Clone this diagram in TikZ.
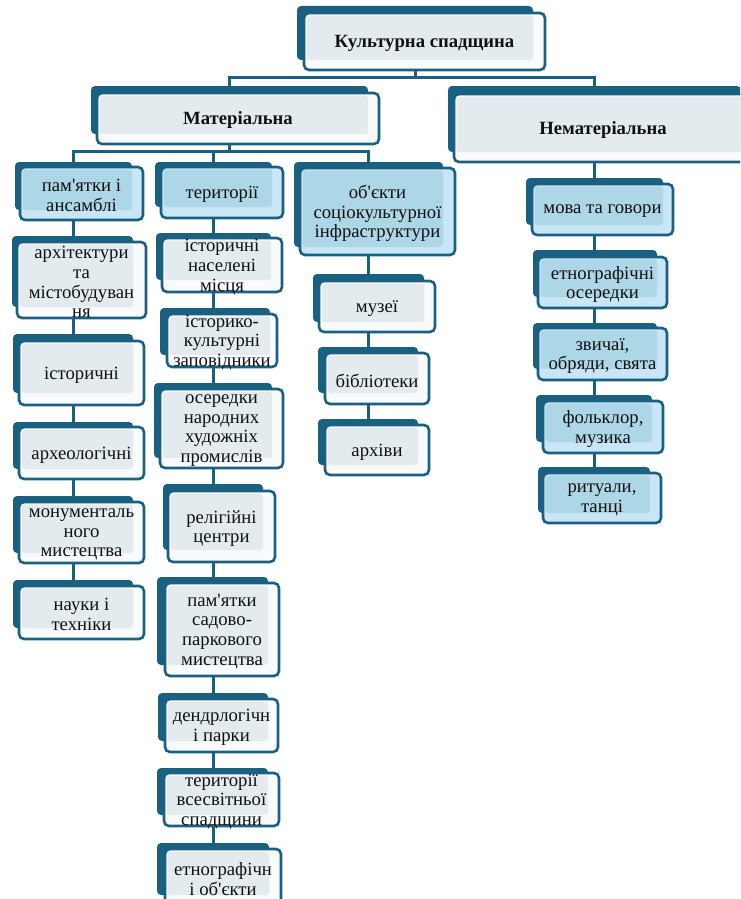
\documentclass[tikz,border=0pt]{standalone}
\usepackage{fontspec}
\setmainfont{Liberation Serif}
\usetikzlibrary{fit,backgrounds}
\definecolor{navy}{HTML}{1A6080}
\definecolor{greyin}{HTML}{E4EBEF}
\definecolor{greyout}{HTML}{F8FAFB}
\definecolor{bluein}{HTML}{ADD6E7}
\definecolor{blueout}{HTML}{C8E6F5}
\definecolor{ink}{HTML}{111111}
\newcommand\apo{\textquotesingle}
\tikzset{
  backbox/.style={fill=navy, rounded corners=4pt, inner sep=0pt, outer sep=0pt},
  frontbox/.style={draw=navy, line width=2.6pt, rounded corners=5pt, inner sep=0pt, outer sep=0pt},
  greyout/.style={fill=greyout}, blueout/.style={fill=blueout},
  greyin/.style={fill=greyin}, bluein/.style={fill=bluein},
  txt/.style={align=center, inner sep=0pt, text=ink, font=\fontsize{18.7}{19.7}\selectfont},
  conn/.style={draw=navy, line width=3pt}
}
\newcommand\cbx[7]{%
  \node[backbox, fit={(#2)(#3)}] (#1b) {};
  \node[frontbox, #6out, fit={(#4)(#5)}] (#1) {};
  \fill[#6in, rounded corners=3pt] ([shift={(2.5,2.5)}]#1.north west) rectangle (#3);
  \node[txt] (#1t) at ([yshift=-2pt]#1.center) {#7};
}
\begin{document}
\begin{tikzpicture}[x=1pt,y=-1pt]
\useasboundingbox (0,0) rectangle (740,899);
\clip (0,0) rectangle (740,899);
\coordinate (busT) at (0,77);
\coordinate (busM) at (0,151);
\cbx{tb}{297,6}{533,60}{304,13}{545,70}{grey}{\bfseries Культурна спадщина}
\cbx{mat}{91,86}{368,134}{97,93}{379,144}{grey}{\bfseries Матеріальна}
\cbx{nemat}{448,86}{741,152}{454,94}{752,162}{grey}{\bfseries Нематеріальна}
% column 1
\cbx{pa}{15,162}{132,210}{20,167}{143,220}{blue}{пам\apo ятки і\\ансамблі}
\cbx{arch}{12,236}{133,307}{17,242}{146,318}{grey}{архітектури\\та\\містобудуван\\ня}
\cbx{ist}{13,334}{133,393}{19,341}{144,405}{grey}{історичні}
\cbx{arh}{13,422}{133,469}{19,427}{144,479}{grey}{археологічні}
\cbx{mon}{13,496}{133,553}{19,502}{144,563}{grey}{монументаль\\ного\\мистецтва}
\cbx{nauk}{13,580}{133,628}{19,586}{144,639}{grey}{науки і\\техніки}
% column 2
\cbx{ter}{155,162}{272,207}{161,167}{283,218}{blue}{території}
\cbx{inm}{156,233}{271,280}{162,238}{282,292}{grey}{історичні\\населені\\місця}
\cbx{ikz}{160,308}{270,355}{167,314}{277,367}{grey}{історико-\\культурні\\заповідники}
\cbx{oser}{154,383}{272,458}{160,389}{283,468}{grey}{осередки\\народних\\художніх\\промислів}
\cbx{rel}{163,484}{263,550}{168,491}{275,562}{grey}{релігійні\\центри}
\cbx{sad}{157,577}{268,665}{165,583}{279,676}{grey}{пам\apo ятки\\садово-\\паркового\\мистецтва}
\cbx{dend}{158,693}{268,741}{165,699}{278,752}{grey}{дендрлогічн\\і парки}
\cbx{tvs}{157,768}{268,815}{164,773}{279,826}{grey}{території\\всесвітньої\\спадщини}
\cbx{etn}{157,843}{269,895}{165,849}{281,905}{grey}{етнографічн\\і об\apo єкти}
% column 3
\cbx{obj}{294,162}{443,247}{300,168}{455,255}{blue}{об\apo єкти\\соціокультурної\\інфраструктури}
\cbx{muz}{313,274}{424,322}{319,281}{435,332}{grey}{музеї}
\cbx{bib}{318,347}{418,393}{325,353}{429,404}{grey}{бібліотеки}
\cbx{arhv}{318,419}{418,465}{325,425}{429,475}{grey}{архіви}
% intangible column
\cbx{mova}{526,178}{663,225}{532,184}{673,235}{blue}{мова та говори}
\cbx{etnos}{533,250}{657,297}{538,257}{667,308}{blue}{етнографічні\\осередки}
\cbx{zv}{533,323}{657,369}{538,328}{667,380}{blue}{звичаї,\\обряди, свята}
\cbx{folk}{536,395}{652,442}{543,401}{663,453}{blue}{фольклор,\\музика}
\cbx{rit}{538,467}{650,513}{543,473}{661,523}{blue}{ритуали,\\танці}
\begin{scope}[on background layer]
\draw[conn] (tbb.center) -- (tbb.center |- busT)
  (matb.center) |- (nematb.center |- busT) -- (nematb.center);
\draw[conn] (matb.center) -- (matb.center |- busM)
  (pab.center) |- (objb.center |- busM) -- (objb.center)
  (terb.center) -- (terb.center |- busM);
\draw[conn] (pab.center) -- (pab.center |- naukb.center);
\draw[conn] (terb.center) -- (terb.center |- etnb.center);
\draw[conn] (objb.center) -- (objb.center |- arhvb.center);
\draw[conn] (nematb.center) -- (nematb.center |- ritb.center);
\end{scope}
\end{tikzpicture}
\end{document}
